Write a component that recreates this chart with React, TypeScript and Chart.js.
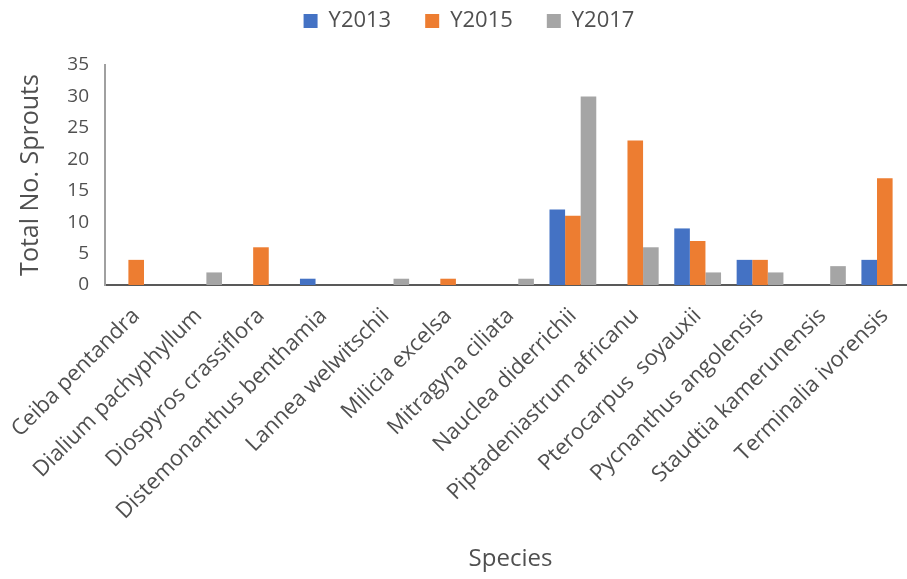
import { useEffect, useRef } from 'react';
import { Chart, registerables } from 'chart.js';

Chart.register(...registerables);

const species = [
  'Ceiba pentandra',
  'Dialium pachyphyllum',
  'Diospyros crassiflora',
  'Distemonanthus benthamia',
  'Lannea welwitschii',
  'Milicia excelsa',
  'Mitragyna ciliata',
  'Nauclea diderrichii',
  'Piptadeniastrum africanu',
  'Pterocarpus  soyauxii',
  'Pycnanthus angolensis',
  'Staudtia kamerunensis',
  'Terminalia ivorensis',
];
const seriesNames = ['Y2013', 'Y2015', 'Y2017'];
const y2013 = [0, 0, 0, 1, 0, 0, 0, 12, 0, 9, 4, 0, 4];
const y2015 = [4, 0, 6, 0, 0, 1, 0, 11, 23, 7, 4, 0, 17];
const y2017 = [0, 2, 0, 0, 1, 0, 1, 30, 6, 2, 2, 3, 0];
const yMin = 0;
const yMax = 35;
const yStep = 5;

const colors = ['#4472C4', '#ED7D31', '#A5A5A5'];
const FONT = "'Open Sans', sans-serif";
const TEXT = '#505050';

const LEGEND_PAD = 34;
const LEGEND_FONT = 22;
const LEGEND_HEIGHT = 65;
const LEGEND_CENTER_Y = 21;

const legendTweak = {
  id: 'legendTweak',
  afterInit(chart: any) {
    const l = chart.legend;
    if (!l) return;
    const orig = l.fit;
    l.fit = function (...args: any[]) {
      orig.apply(this, args);
      this.height = LEGEND_HEIGHT;
    };
  },
  afterLayout(chart: any) {
    const l = chart.legend;
    if (!l) return;
    const top = LEGEND_CENTER_Y - LEGEND_PAD - LEGEND_FONT / 2;
    l.top = top;
    l.bottom = top + LEGEND_HEIGHT;
  },
};

export default function App() {
  const ref = useRef<HTMLCanvasElement | null>(null);
  useEffect(() => {
    if (!ref.current) return;
    const data = [y2013, y2015, y2017];
    const chart = new Chart(ref.current, {
      type: 'bar',
      data: {
        labels: species,
        datasets: seriesNames.map((name, i) => ({
          label: name,
          data: data[i],
          backgroundColor: colors[i],
          borderWidth: 0,
          categoryPercentage: 0.75,
          barPercentage: 1.0,
          yAxisID: 'y',
        })),
      },
      options: {
        responsive: false,
        animation: false,
        devicePixelRatio: 1,
        layout: { padding: 0 },
        plugins: {
          legend: {
            position: 'top',
            align: 'center',
            labels: {
              boxWidth: 14,
              boxHeight: 14,
              padding: LEGEND_PAD,
              color: TEXT,
              font: { family: FONT, size: LEGEND_FONT },
            },
          },
          tooltip: { enabled: false },
        },
        scales: {
          x: {
            offset: true,
            grid: { display: false },
            border: { display: true, color: '#595959', width: 2 },
            ticks: {
              autoSkip: false,
              minRotation: 45,
              maxRotation: 45,
              padding: 10,
              color: TEXT,
              font: { family: FONT, size: 22 },
            },
            title: {
              display: true,
              text: 'Species',
              color: TEXT,
              font: { family: FONT, size: 24 },
              padding: { top: 0, bottom: 5 },
            },
            afterFit: (s: any) => {
              s.height = 294;
            },
          },
          y: {
            position: 'left',
            min: yMin,
            max: yMax,
            grid: { display: false },
            border: { display: true, color: '#a0a0a0', width: 2 },
            ticks: {
              stepSize: yStep,
              padding: 8,
              color: TEXT,
              font: { family: FONT, size: 19 },
            },
            title: {
              display: true,
              text: 'Total No. Sprouts',
              color: TEXT,
              font: { family: FONT, size: 25 },
              padding: { top: 16, bottom: 0 },
            },
            afterFit: (s: any) => {
              s.width = 105;
            },
          },
          yR: {
            type: 'linear',
            position: 'right',
            display: true,
            grid: { display: false },
            border: { display: false },
            ticks: { display: false },
            afterFit: (s: any) => {
              s.width = 22;
            },
          },
        },
      },
      plugins: [legendTweak],
    });
    return () => chart.destroy();
  }, []);

  return (
    <div
      style={{
        position: 'absolute',
        left: 0,
        top: 0,
        width: 907,
        height: 579,
        overflow: 'hidden',
        background: '#fff',
      }}
    >
      <canvas ref={ref} width={938} height={579} style={{ width: 938, height: 579 }} />
    </div>
  );
}
